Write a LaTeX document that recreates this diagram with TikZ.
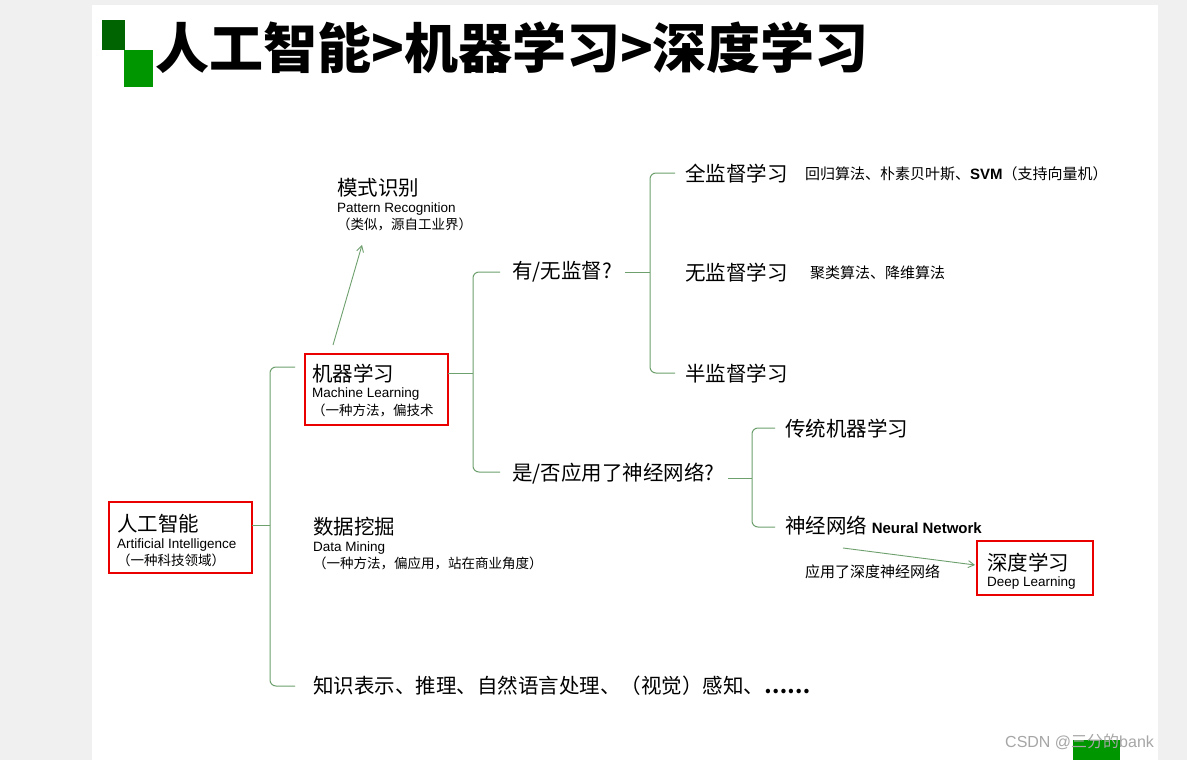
\documentclass[tikz,border=0pt]{standalone}
\usepackage{fontspec}
\setmainfont{Noto Sans CJK SC}
\newfontfamily\en{Liberation Sans}
\usepackage{tikz}
\usetikzlibrary{positioning, arrows.meta}
\definecolor{branch}{RGB}{110,160,110}
\definecolor{boxred}{RGB}{235,0,0}
\definecolor{darkg}{RGB}{0,100,0}
\definecolor{lightg}{RGB}{0,150,0}
\tikzset{
  big/.style={anchor=west, inner sep=0pt, font=\fontsize{20.5}{22}\selectfont},
  sub/.style={anchor=west, inner sep=0pt, font=\fontsize{13.5}{15}\selectfont},
  note/.style={anchor=west, inner sep=0pt, font=\fontsize{15}{17}\selectfont},
  redbox/.style={draw=boxred, line width=2.5pt},
  brace/.style={draw=branch, line width=1pt, rounded corners=6pt},
  link/.style={-{Straight Barb[length=6pt, width=7pt]}, branch, line width=.9pt},
}
\begin{document}
\begin{tikzpicture}[x=1pt, y=-1pt]
    \fill [gray!12] (0,0) rectangle (1187,760);
    \fill [white] (92,5) rectangle (1158,760);
    \useasboundingbox (0,0) rectangle (1187,760);

    % title
    \fill [darkg] (102,20) rectangle (125,50);
    \fill [lightg] (124,50) rectangle (153,87);
    \node [anchor=west, inner sep=0pt, font=\fontsize{54}{56}\selectfont\bfseries] (title) at (155,48) {人工智能>机器学习>深度学习};

    % boxes
    \draw [redbox] (109,502) rectangle (252,573);
    \node [big] (ai) at (117,524) {人工智能};
    \node [sub] (aien) at (117,545) {\en Artificial Intelligence};
    \node [sub] (aizh) at (117,560) {（一种科技领域）};

    \draw [redbox] (305,354) rectangle (448,425);
    \node [big] (ml) at (312,374) {机器学习};
    \node [sub] (mlen) at (312,394) {\en Machine Learning};
    \node [sub] (mlzh) at (312,410) {（一种方法，偏技术};

    \draw [redbox] (977,541) rectangle (1093,595);
    \node [big] (dl) at (987,563) {深度学习};
    \node [sub] (dlen) at (987,583) {\en Deep Learning};

    % other nodes
    \node [big] (pr) at (337,188) {模式识别};
    \node [sub] (pren) at (337,209) {\en Pattern Recognition};
    \node [sub] (przh) at (337,224) {（类似，源自工业界）};

    \node [big] (dm) at (313,527) {数据挖掘};
    \node [sub] (dmen) at (313,548) {\en Data Mining};
    \node [sub] (dmzh) at (313,563) {（一种方法，偏应用，站在商业角度）};

    \node [big] (kr) at (313,686) {知识表示、推理、自然语言处理、（视觉）感知、\textbf{……}};

    \node [big] (sup) at (512,272) {有/无监督?};
    \node [big] (nn) at (512,474) {是/否应用了神经网络?};

    \node [big] (full) at (685,174) {全监督学习};
    \node [note] (fulln) at (805,174) {回归算法、朴素贝叶斯、{\en\bfseries SVM}（支持向量机）};
    \node [big] (unsup) at (685,273) {无监督学习};
    \node [note] (unsupn) at (810,273) {聚类算法、降维算法};
    \node [big] (semi) at (685,374) {半监督学习};

    \node [big] (trad) at (785,429) {传统机器学习};
    \node [big] (neur) at (785,526) {神经网络 {\en\bfseries\fontsize{15}{17}\selectfont Neural Network}};
    \node [note] (apply) at (805,572) {应用了深度神经网络};

    % braces
    \draw [brace] (252,525) -- (270,525);
    \draw [brace] (295,367) -- (270,367) -- (270,686) -- (295,686);
    \draw [brace] (448,373) -- (473,373);
    \draw [brace] (500,272) -- (473,272) -- (473,472) -- (500,472);
    \draw [brace] (625,272) -- (650,272);
    \draw [brace] (675,173) -- (650,173) -- (650,373) -- (675,373);
    \draw [brace] (728,478) -- (752,478);
    \draw [brace] (775,428) -- (752,428) -- (752,527) -- (775,527);

    % arrows
    \coordinate (mltop) at (333,345);
    \coordinate (prbot) at (362,245);
    \draw [link] (mltop) -- (prbot);
    \coordinate (nnbot) at (843,548);
    \coordinate (dlin) at (975,565);
    \draw [link] (nnbot) -- (dlin);

    % watermark
    \fill [lightg] (1073,740) rectangle (1120,760);
    \node [anchor=west, inner sep=0pt, text=gray!70, font=\fontsize{16}{18}\selectfont] (mark) at (1005,742) {\en CSDN @\rmfamily 三分的\en bank};
\end{tikzpicture}
\end{document}
